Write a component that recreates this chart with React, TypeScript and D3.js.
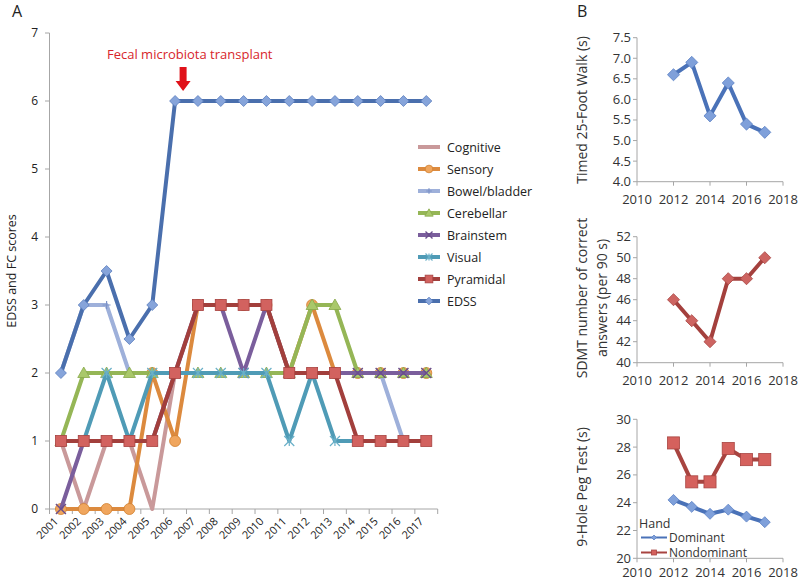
import React from "react";
import * as d3 from "d3";

const years = ["2001","2002","2003","2004","2005","2006","2007","2008","2009","2010","2011","2012","2013","2014","2015","2016","2017"];
const cognitive = [1,0,1,1,0,2,2,2,2,2,2,2,2,2,2,2,2];
const sensory = [0,0,0,0,2,1,3,3,3,3,2,3,2,2,2,2,2];
const bowel = [2,3,3,2,2,2,2,2,2,2,2,2,2,2,2,1,1];
const cerebellar = [1,2,2,2,2,2,2,2,2,2,2,3,3,2,2,2,2];
const brainstem = [0,1,1,1,1,2,3,3,2,3,2,2,2,2,2,2,2];
const visual = [1,1,2,1,2,2,2,2,2,2,1,2,1,1,1,1,1];
const pyramidal = [1,1,1,1,1,2,3,3,3,3,2,2,2,1,1,1,1];
const edss = [2,3,3.5,2.5,3,6,6,6,6,6,6,6,6,6,6,6,6];
const yTicksA = [0,1,2,3,4,5,6,7];

const bYears = [2012,2013,2014,2015,2016,2017];
const walk = [6.6,6.9,5.6,6.4,5.4,5.2];
const sdmt = [46,44,42,48,48,50];
const pegDominant = [24.2,23.7,23.2,23.5,23.0,22.6];
const pegNondominant = [28.3,25.5,25.5,27.9,27.1,27.1];
const bXTicks = [2010,2012,2014,2016,2018];
const walkTicks = [4.0,4.5,5.0,5.5,6.0,6.5,7.0,7.5];
const sdmtTicks = [40,42,44,46,48,50,52];
const pegTicks = [20,22,24,26,28,30];

const FONT = "'Open Sans', 'DejaVu Sans', sans-serif";
const AXIS = "#A6A6A6";

type Mk = "none" | "circle" | "plus" | "triangle" | "times" | "asterisk" | "square" | "diamond";

function Marker({ kind, x, y, fill, stroke, size = 1 }: { kind: Mk; x: number; y: number; fill: string; stroke: string; size?: number }) {
  const s = size;
  if (kind === "none") return null;
  if (kind === "circle") return <circle cx={x} cy={y} r={5.5 * s} fill={fill} stroke={stroke} strokeWidth={0.8} />;
  if (kind === "square") return <rect x={x - 5.5 * s} y={y - 5.5 * s} width={11 * s} height={11 * s} fill={fill} stroke={stroke} strokeWidth={0.8} />;
  if (kind === "diamond") {
    const r = 5.5 * s;
    return <path d={`M${x},${y - r}L${x + r},${y}L${x},${y + r}L${x - r},${y}Z`} fill={fill} stroke={stroke} strokeWidth={0.8} />;
  }
  if (kind === "triangle") {
    const r = 6 * s;
    return <path d={`M${x},${y - r}L${x + r},${y + r * 0.75}L${x - r},${y + r * 0.75}Z`} fill={fill} stroke={stroke} strokeWidth={0.8} />;
  }
  if (kind === "plus") {
    const r = 4 * s;
    return <path d={`M${x - r},${y}H${x + r}M${x},${y - r}V${y + r}`} stroke={stroke} strokeWidth={1.2} />;
  }
  if (kind === "times") {
    const r = 5 * s;
    return <path d={`M${x - r},${y - r}L${x + r},${y + r}M${x - r},${y + r}L${x + r},${y - r}`} stroke={stroke} strokeWidth={1.4} />;
  }
  if (kind === "asterisk") {
    const r = 5 * s;
    return <path d={`M${x - r},${y - r}L${x + r},${y + r}M${x - r},${y + r}L${x + r},${y - r}M${x},${y - r}V${y + r}`} stroke={stroke} strokeWidth={1.2} />;
  }
  return null;
}

const seriesA: { name: string; data: number[]; color: string; mk: Mk; mfill: string; mstroke: string }[] = [
  { name: "Cognitive", data: cognitive, color: "#C9999A", mk: "none", mfill: "#C9999A", mstroke: "#C9999A" },
  { name: "Sensory", data: sensory, color: "#DC8A3E", mk: "circle", mfill: "#F0A65E", mstroke: "#D08030" },
  { name: "Bowel/bladder", data: bowel, color: "#9EB0DA", mk: "plus", mfill: "#9EB0DA", mstroke: "#7D93C8" },
  { name: "Cerebellar", data: cerebellar, color: "#95B656", mk: "triangle", mfill: "#A9C86A", mstroke: "#88A84A" },
  { name: "Brainstem", data: brainstem, color: "#7A5E9C", mk: "times", mfill: "#7A5E9C", mstroke: "#6A4E8C" },
  { name: "Visual", data: visual, color: "#4F9BB6", mk: "asterisk", mfill: "#4F9BB6", mstroke: "#6AB0C8" },
  { name: "Pyramidal", data: pyramidal, color: "#A23F3C", mk: "square", mfill: "#D2625F", mstroke: "#A84240" },
  { name: "EDSS", data: edss, color: "#4A6FAD", mk: "diamond", mfill: "#86A4DA", mstroke: "#5A7EBE" },
];

function PanelA() {
  const x = d3.scaleBand().domain(years).range([49.5, 437.7]);
  const bw = x.bandwidth();
  const cx = (yr: string) => (x(yr) as number) + bw / 2;
  const y = d3.scaleLinear().domain([0, 7]).range([509, 33]);
  const line = d3.line<number>().x((_, i) => cx(years[i])).y((d) => y(d));
  const boundaries = years.map((yr) => x(yr) as number).concat([437.7]);
  const arrowX = cx("2006") + 8;
  return (
    <g fontFamily={FONT}>
      <text x={12} y={17} fontSize={16} fill="#222">A</text>
      <line x1={49.5} x2={49.5} y1={y(7)} y2={y(0)} stroke={AXIS} />
      {yTicksA.map((t) => (
        <g key={t}>
          <line x1={45} x2={49.5} y1={y(t)} y2={y(t)} stroke={AXIS} />
          <text x={38} y={y(t) + 4} fontSize={12} textAnchor="end" fill="#222">{t}</text>
        </g>
      ))}
      <line x1={49.5} x2={437.7} y1={y(0)} y2={y(0)} stroke={AXIS} />
      {boundaries.map((b, i) => (
        <line key={i} x1={b} x2={b} y1={y(0)} y2={y(0) + 5} stroke={AXIS} />
      ))}
      {years.map((yr) => (
        <text key={yr} transform={`translate(${cx(yr) - 2},${y(0) + 13}) rotate(-45)`} fontSize={11} textAnchor="end" fill="#222">{yr}</text>
      ))}
      <text transform={`translate(16,271) rotate(-90)`} fontSize={12.5} textAnchor="middle" fill="#222">EDSS and FC scores</text>
      {seriesA.map((s) => (
        <g key={s.name}>
          <path d={line(s.data) as string} fill="none" stroke={s.color} strokeWidth={4} strokeLinejoin="round" />
          {s.data.map((v, i) => (
            <Marker key={i} kind={s.mk} x={cx(years[i])} y={y(v)} fill={s.mfill} stroke={s.mstroke} />
          ))}
        </g>
      ))}
      <text x={107} y={59} fontSize={13} fill="#D7262B">Fecal microbiota transplant</text>
      <path d={`M${arrowX - 3.5},67H${arrowX + 3.5}V81H${arrowX + 7.5}L${arrowX},91L${arrowX - 7.5},81H${arrowX - 3.5}Z`} fill="#E0121A" />
      {seriesA.map((s, i) => {
        const ly = 147 + i * 22;
        return (
          <g key={s.name}>
            <line x1={418} x2={440} y1={ly} y2={ly} stroke={s.color} strokeWidth={4} />
            <Marker kind={s.mk} x={429} y={ly} fill={s.mfill} stroke={s.mstroke} size={0.7} />
            <text x={447} y={ly + 4.5} fontSize={12.5} fill="#222">{s.name}</text>
          </g>
        );
      })}
    </g>
  );
}

function SmallChart({ top, bottom, domain, ticks, fmt, labels, labelY, series, legend }: {
  top: number; bottom: number; domain: [number, number]; ticks: number[]; fmt: (v: number) => string;
  labels: string[]; labelY: number;
  series: { data: number[]; color: string; mk: Mk; mfill: string; mstroke: string; width: number; msize: number; name?: string }[];
  legend?: boolean;
}) {
  const x = d3.scaleLinear().domain([2010, 2018]).range([637, 783]);
  const y = d3.scaleLinear().domain(domain).range([bottom, top]);
  const line = d3.line<number>().x((_, i) => x(bYears[i])).y((d) => y(d));
  return (
    <g fontFamily={FONT}>
      <line x1={637} x2={637} y1={top} y2={bottom} stroke={AXIS} />
      {ticks.map((t) => (
        <g key={t}>
          <line x1={633} x2={637} y1={y(t)} y2={y(t)} stroke={AXIS} />
          <text x={631} y={y(t) + 4.5} fontSize={13} textAnchor="end" fill="#333">{fmt(t)}</text>
        </g>
      ))}
      <line x1={637} x2={783} y1={bottom} y2={bottom} stroke={AXIS} />
      {bXTicks.map((t) => (
        <g key={t}>
          <line x1={x(t)} x2={x(t)} y1={bottom} y2={bottom + 4} stroke={AXIS} />
          <text x={x(t)} y={Math.min(bottom + 22, 577)} fontSize={13} textAnchor="middle" fill="#333">{t}</text>
        </g>
      ))}
      {labels.map((l, i) => (
        <text key={i} transform={`translate(${587 + i * 20},${labelY}) rotate(-90)`} fontSize={14} textAnchor="middle" fill="#333">{l}</text>
      ))}
      {series.map((s, k) => (
        <g key={k}>
          <path d={line(s.data) as string} fill="none" stroke={s.color} strokeWidth={s.width} strokeLinejoin="round" />
          {s.data.map((v, i) => (
            <Marker key={i} kind={s.mk} x={x(bYears[i])} y={y(v)} fill={s.mfill} stroke={s.mstroke} size={s.msize} />
          ))}
        </g>
      ))}
      {legend && (
        <g>
          <text x={639} y={528} fontSize={12.5} fill="#333">Hand</text>
          {series.map((s, i) => {
            const ly = 537.5 + i * 15;
            return (
              <g key={i}>
                <line x1={641} x2={667} y1={ly} y2={ly} stroke={s.color} strokeWidth={2} />
                <Marker kind={s.mk} x={654} y={ly} fill={s.mfill} stroke={s.mstroke} size={0.45} />
                <text x={669} y={ly + 4.3} fontSize={12} fill="#333">{s.name}</text>
              </g>
            );
          })}
        </g>
      )}
    </g>
  );
}

export default function App() {
  return (
    <svg width={798} height={581} style={{ position: "absolute", left: 0, top: 0, background: "#fff" }}>
      <rect width={798} height={581} fill="#fff" />
      <PanelA />
      <text x={577} y={17} fontSize={16} fontFamily={FONT} fill="#222">B</text>
      <SmallChart top={37.7} bottom={181.7} domain={[4, 7.5]} ticks={walkTicks} fmt={(v) => v.toFixed(1)}
        labels={["Timed 25-Foot Walk (s)"]} labelY={110}
        series={[{ data: walk, color: "#4A72B8", mk: "diamond", mfill: "#7FA0DA", mstroke: "#5A80C4", width: 4, msize: 1.1 }]} />
      <SmallChart top={236.7} bottom={362.7} domain={[40, 52]} ticks={sdmtTicks} fmt={(v) => String(v)}
        labels={["SDMT number of correct", "answers (per 90 s)"]} labelY={298}
        series={[{ data: sdmt, color: "#A4403D", mk: "diamond", mfill: "#CD6461", mstroke: "#A84542", width: 4, msize: 1.1 }]} />
      <SmallChart top={419.3} bottom={558.3} domain={[20, 30]} ticks={pegTicks} fmt={(v) => String(v)}
        labels={["9-Hole Peg Test (s)"]} labelY={487} legend
        series={[
          { name: "Dominant", data: pegDominant, color: "#4A72B8", mk: "diamond", mfill: "#7FA0DA", mstroke: "#5A80C4", width: 4, msize: 1.0 },
          { name: "Nondominant", data: pegNondominant, color: "#A84440", mk: "square", mfill: "#D5615D", mstroke: "#A84542", width: 4, msize: 1.1 },
        ]} />
    </svg>
  );
}
